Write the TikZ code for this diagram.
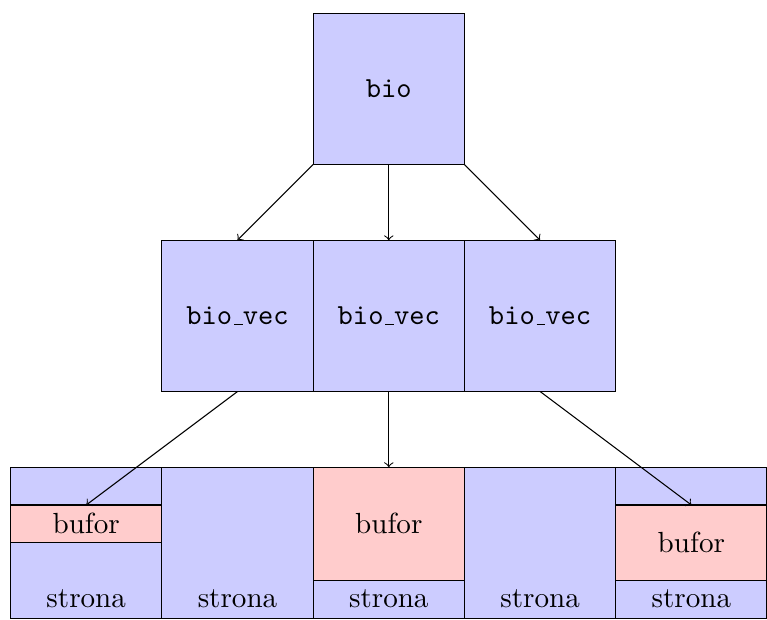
\documentclass[tikz,border=0pt,11pt]{standalone}
\usetikzlibrary{positioning}
% podkreslnik jako kreska, jak w OT1
\newcommand{\uscore}{\leavevmode\kern.06em\vbox{\hrule width.3em}}

\begin{document}
\begin{tikzpicture}[node distance=1cm,
    box/.style={draw, fill=blue!20, minimum size=2cm, inner sep=0pt, outer sep=0pt},
    bufbox/.style={draw, fill=red!20, minimum width=2cm, inner sep=0pt, outer sep=0pt},
    arr/.style={->}]
    \useasboundingbox (-0.14,-0.017) rectangle (10,8.176);
    % bio i jego wektory
    \node[box] (bio) at (5,7) {\texttt{bio}};
    \node[box, below=of bio] (v2) {\texttt{bio\uscore vec}};
    \node[box, left=0pt of v2] (v1) {\texttt{bio\uscore vec}};
    \node[box, right=0pt of v2] (v3) {\texttt{bio\uscore vec}};
    % strony
    \node[box, below=of v2] (p3) {};
    \node[box, left=0pt of p3] (p2) {};
    \node[box, left=0pt of p2] (p1) {};
    \node[box, right=0pt of p3] (p4) {};
    \node[box, right=0pt of p4] (p5) {};
    \node[bufbox, minimum height=0.5cm, below=0.5cm of p1.north] (b1) {bufor};
    \node[bufbox, minimum height=1.5cm, below=0pt of p3.north] (b3) {bufor};
    \node[bufbox, minimum height=1cm, below=0.5cm of p5.north] (b5) {bufor};
    \foreach \p in {p1,p2,p3,p4,p5}
      \node[above] (s\p) at (\p.south) {strona};
    % strzalki
    \draw[arr] (bio.south west) -- (v1.north);
    \draw[arr] (bio.south) -- (v2.north);
    \draw[arr] (bio.south east) -- (v3.north);
    \draw[arr] (v1.south) -- (b1.north);
    \draw[arr] (v2.south) -- (b3.north);
    \draw[arr] (v3.south) -- (b5.north);
\end{tikzpicture}
\end{document}
